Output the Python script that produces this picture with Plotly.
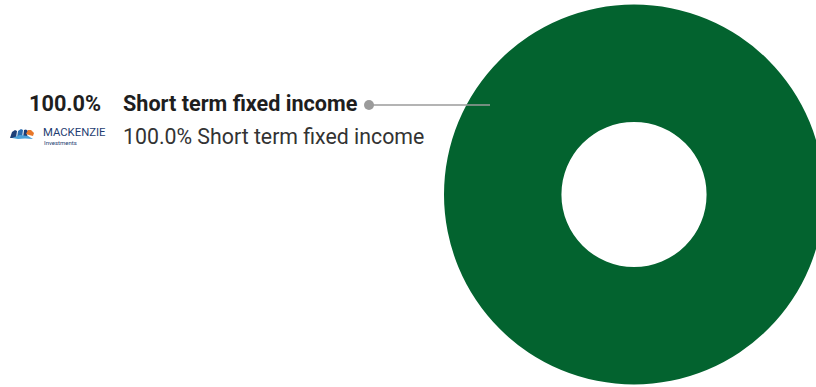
import plotly.graph_objects as go

# Portfolio allocation
labels = ["Short term fixed income"]
values = [100.0]
colors = ["#03632f"]

W, H = 830, 387  # figure canvas (pixels)


def px(x):
    return x / W


def py(y):
    return 1 - y / H


fig = go.Figure()

# Donut centered at (634, 194.5) with outer radius 190
cx, cy, r = 634, 194.5, 190
fig.add_trace(go.Pie(
    labels=labels,
    values=values,
    hole=0.382,
    sort=False,
    direction="clockwise",
    marker=dict(colors=colors, line=dict(width=0)),
    textinfo="none",
    hoverinfo="label+percent",
    showlegend=False,
    domain=dict(x=[px(cx - r), px(cx + r)], y=[py(cy + r), py(cy - r)]),
))

annotations = []
shapes = []

# Callout: bold value + label with leader line into the slice
for lab, v in zip(labels, values):
    annotations.append(dict(
        x=px(103), y=py(104), xref="paper", yref="paper",
        xanchor="right", yanchor="middle", showarrow=False,
        text=f"<b>{v:.1f}%</b>",
        font=dict(family="Roboto", size=21.7, color="#1e1e1e"),
    ))
    annotations.append(dict(
        x=px(121), y=py(104), xref="paper", yref="paper",
        xanchor="left", yanchor="middle", showarrow=False,
        text=f"<b>{lab}</b>",
        font=dict(family="Roboto", size=21.6, color="#1e1e1e"),
    ))
    annotations.append(dict(
        x=px(121), y=py(136), xref="paper", yref="paper",
        xanchor="left", yanchor="middle", showarrow=False,
        text=f"{v:.1f}% {lab}",
        font=dict(family="Roboto", size=21.3, color="#333333"),
    ))

shapes.append(dict(
    type="line", xref="paper", yref="paper",
    x0=px(369), x1=px(490), y0=py(105), y1=py(105),
    line=dict(color="#9b9b9b", width=1.5),
))
shapes.append(dict(
    type="circle", xref="paper", yref="paper",
    xsizemode="pixel", ysizemode="pixel",
    xanchor=px(369), yanchor=py(105),
    x0=-5, x1=5, y0=-5, y1=5,
    fillcolor="#9b9b9b", line=dict(width=0),
))


# Brand mark: small arch emblem + wordmark
def path(points):
    s = ""
    for i, (x, y) in enumerate(points):
        s += ("M" if i == 0 else "L") + f"{px(x):.5f},{py(y):.5f} "
    return s + "Z"


emblem = [
    ([(10, 138), (12, 132), (15, 130), (17, 131), (16, 138)], "#1d3f78"),
    ([(17, 138), (18, 131), (21, 129), (23, 130), (22, 138)], "#2a6cb0"),
    ([(23, 138), (24, 130), (26, 129.5), (28, 131), (27, 135), (29, 138)], "#1d3f78"),
    ([(26, 134), (28, 130), (31, 130), (34, 133), (33, 136), (29, 135)], "#e8782a"),
    ([(12, 138), (20, 135), (28, 136), (33, 139), (25, 138.5), (18, 139)], "#4aa0d8"),
]
for pts, col in emblem:
    shapes.append(dict(type="path", xref="paper", yref="paper",
                       path=path(pts), fillcolor=col, line=dict(width=0)))

annotations.append(dict(
    x=px(41), y=py(132.5), xref="paper", yref="paper",
    xanchor="left", yanchor="middle", showarrow=False,
    text="MACKENZIE",
    font=dict(family="Roboto", size=11.3, color="#1f3e72"),
))
annotations.append(dict(
    x=px(42), y=py(142.5), xref="paper", yref="paper",
    xanchor="left", yanchor="middle", showarrow=False,
    text="Investments",
    font=dict(family="Roboto", size=6, color="#1f3e72"),
))

fig.update_layout(
    width=W, height=H,
    margin=dict(l=0, r=0, t=0, b=0),
    paper_bgcolor="white", plot_bgcolor="white",
    annotations=annotations, shapes=shapes,
)

fig.write_html(
    "out.html",
    post_script="document.body.style.overflow='hidden';document.body.style.margin='0';",
)
